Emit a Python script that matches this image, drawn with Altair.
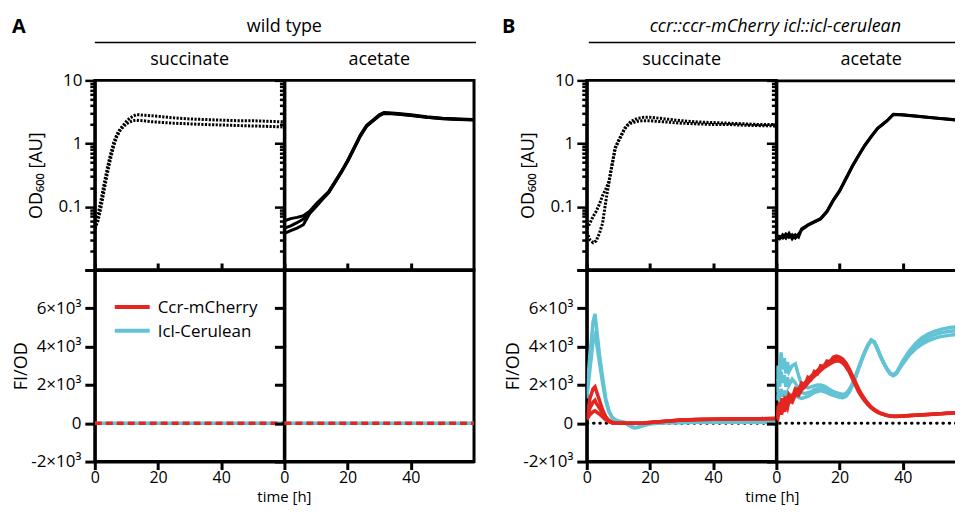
import altair as alt
import pandas as pd

FONT = "Open Sans"
RED = "#e3261f"
CYAN = "#62c3d4"

# ---------------- text ----------------
SERIES = ["Ccr-mCherry", "Icl-Cerulean"]
SERIES_COLORS = [RED, CYAN]
STRAINS = ["wild type", "ccr::ccr-mCherry icl::icl-cerulean"]
PANEL_LETTERS = ["A", "B"]
MEDIA = ["succinate", "acetate"]
X_TITLE = "time [h]"
OD_TITLE = "OD₆₀₀ [AU]"
FI_TITLE = "FI/OD"

# ---------------- ticks ----------------
X_TICKS = [0, 20, 40]
OD_TICKS = [0.01, 0.02, 0.03, 0.04, 0.05, 0.06, 0.07, 0.08, 0.09,
            0.1, 0.2, 0.3, 0.4, 0.5, 0.6, 0.7, 0.8, 0.9,
            1, 2, 3, 4, 5, 6, 7, 8, 9, 10]
FI_TICKS = [-2000, 0, 2000, 4000, 6000, 8000]

# ---------------- A: wild type, OD600 ----------------
A_SUC_T = [0, 1, 2, 3, 4, 5, 6, 7, 8, 9, 10, 11, 12, 13, 14, 16, 18, 20, 25, 30, 35, 40, 45, 50, 55, 60]
A_SUC_OD1 = [0.06, 0.075, 0.13, 0.24, 0.42, 0.68, 1.05, 1.4, 1.7, 1.95, 2.25, 2.5, 2.7, 2.85, 2.85, 2.8,
             2.75, 2.7, 2.55, 2.45, 2.4, 2.35, 2.3, 2.3, 2.25, 2.2]
A_SUC_OD2 = [0.045, 0.06, 0.1, 0.19, 0.34, 0.58, 0.92, 1.3, 1.6, 1.85, 2.05, 2.2, 2.3, 2.35, 2.32, 2.28,
             2.22, 2.18, 2.1, 2.05, 2.0, 1.97, 1.93, 1.9, 1.87, 1.83]

A_ACE_T = [0, 2, 4, 6, 8, 10, 12, 14, 16, 18, 20, 22, 24, 26, 28, 30, 31.5, 34, 36, 40, 45, 50, 55, 60]
A_ACE_OD1 = [0.06, 0.065, 0.068, 0.072, 0.085, 0.11, 0.138, 0.174, 0.25, 0.36, 0.54, 0.85, 1.36, 1.95,
             2.35, 2.85, 3.1, 3.05, 2.98, 2.85, 2.65, 2.52, 2.45, 2.4]
A_ACE_OD2 = [0.046, 0.05, 0.056, 0.064, 0.08, 0.105, 0.134, 0.17, 0.245, 0.355, 0.53, 0.84, 1.33, 1.9,
             2.3, 2.8, 3.05, 3.0, 2.93, 2.8, 2.62, 2.5, 2.43, 2.38]
A_ACE_OD3 = [0.038, 0.042, 0.046, 0.052, 0.078, 0.1, 0.13, 0.166, 0.24, 0.35, 0.52, 0.82, 1.3, 1.87,
             2.27, 2.75, 3.0, 2.96, 2.9, 2.78, 2.6, 2.48, 2.41, 2.36]

# ---------------- A: wild type, FI/OD (no fluorescence) ----------------
WT_T = [0, 60]
WT_FI = [0, 0]

# ---------------- B: reporter strain, OD600 ----------------
B_SUC_T = [0, 1, 2, 3, 4, 5, 6, 7, 8, 9, 10, 11, 12, 13, 14, 16, 18, 20, 22, 25, 30, 35, 40, 45, 50, 55, 60]
B_SUC_OD1 = [0.045, 0.055, 0.07, 0.085, 0.11, 0.15, 0.19, 0.25, 0.47, 0.87, 1.1, 1.4, 1.74, 2.0, 2.25,
             2.5, 2.6, 2.6, 2.55, 2.45, 2.3, 2.2, 2.15, 2.1, 2.05, 2.0, 2.0]
B_SUC_OD2 = [0.04, 0.03, 0.027, 0.029, 0.038, 0.055, 0.12, 0.24, 0.45, 0.84, 1.08, 1.35, 1.7, 1.95, 2.1,
             2.25, 2.3, 2.3, 2.25, 2.2, 2.1, 2.05, 2.0, 2.0, 1.95, 1.92, 1.9]

B_ACE_T = [0, 1, 2, 3, 4, 5, 6, 7, 8, 9, 10, 12, 14, 16, 18, 20, 22, 24, 26, 28, 30, 32, 34, 35, 37,
           40, 45, 50, 55, 60]
B_ACE_OD1 = [0.033, 0.031, 0.036, 0.032, 0.038, 0.031, 0.036, 0.033, 0.045, 0.048, 0.052, 0.058, 0.065,
             0.085, 0.128, 0.18, 0.28, 0.44, 0.65, 0.95, 1.3, 1.74, 2.1, 2.3, 2.9, 2.85, 2.7, 2.55, 2.42, 2.32]
B_ACE_OD2 = [0.035, 0.034, 0.032, 0.037, 0.033, 0.036, 0.032, 0.037, 0.043, 0.047, 0.051, 0.057, 0.064,
             0.083, 0.125, 0.176, 0.275, 0.43, 0.64, 0.93, 1.28, 1.72, 2.08, 2.28, 2.88, 2.83, 2.68, 2.53, 2.4, 2.3]

# ---------------- B: reporter strain, FI/OD on succinate ----------------
B_SUC_FI_T = [0, 1, 2, 2.6, 3, 4, 5, 6, 7, 8, 9, 10, 12, 14, 15, 16, 18, 20, 25, 30, 35, 40, 45, 50, 55, 60]
B_SUC_ICL1 = [1500, 3600, 5300, 5700, 5100, 3600, 2400, 1300, 650, 330, 180, 120, 40, -180, -250, -230,
              -120, -30, 20, 40, 50, 50, 50, 50, 50, 50]
B_SUC_ICL2 = [1300, 2800, 4300, 4600, 4300, 3200, 2100, 1150, 600, 300, 170, 110, 30, -150, -220, -210,
              -110, -20, 20, 40, 50, 50, 50, 50, 50, 50]
B_SUC_CCR1 = [300, 1300, 1800, 1900, 1700, 1200, 700, 350, 150, 60, 20, 5, 0, 0, 0, 0, 10, 40, 110, 170,
              200, 210, 220, 230, 240, 250]
B_SUC_CCR2 = [250, 800, 1100, 1200, 1050, 800, 500, 250, 110, 40, 10, 0, 0, 0, 0, 0, 10, 40, 110, 170,
              200, 210, 220, 230, 240, 250]
B_SUC_CCR3 = [200, 450, 600, 650, 600, 480, 330, 180, 80, 30, 10, 0, 0, 0, 0, 0, 10, 40, 110, 170,
              200, 210, 220, 230, 240, 250]

# ---------------- B: reporter strain, FI/OD on acetate ----------------
B_ACE_FI_T = [0, 0.5, 1, 1.5, 2, 2.5, 3, 3.5, 4, 5, 6, 7, 8, 9, 10, 11, 12, 13, 14, 15, 16, 17, 18, 19,
              20, 21, 22, 23, 24, 25, 26, 27, 28, 29, 30, 31, 32, 33, 34, 35, 36, 37, 38, 39, 40, 42, 44,
              46, 48, 50, 52, 55, 58, 60]
B_ACE_CCR1 = [400, 900, 600, 1000, 750, 1150, 900, 1250, 1100, 1400, 1550, 1800, 1900, 2100, 2250, 2450,
              2600, 2750, 2900, 3000, 3150, 3250, 3350, 3420, 3400, 3300, 3100, 2800, 2450, 2100, 1750,
              1450, 1200, 1000, 830, 700, 600, 520, 460, 410, 380, 360, 360, 370, 380, 400, 420, 440, 460,
              480, 500, 530, 555, 570]
B_ACE_CCR2 = [200, 600, 1100, 700, 1300, 900, 1400, 1000, 1500, 1300, 1800, 1700, 2100, 2000, 2400, 2300,
              2700, 2600, 3000, 2950, 3250, 3200, 3450, 3500, 3450, 3350, 3150, 2850, 2500, 2150, 1800,
              1500, 1250, 1030, 850, 720, 610, 530, 470, 420, 385, 365, 362, 372, 382, 402, 422, 442, 462,
              482, 502, 532, 557, 572]
B_ACE_CCR3 = [500, 300, 800, 450, 900, 600, 1000, 800, 1200, 1100, 1500, 1450, 1750, 1900, 2100, 2300,
              2450, 2600, 2750, 2900, 3000, 3100, 3200, 3250, 3250, 3150, 2950, 2700, 2350, 2000, 1650,
              1380, 1150, 960, 800, 680, 580, 505, 450, 405, 375, 355, 355, 365, 375, 395, 415, 435, 455,
              475, 495, 525, 550, 565]
B_ACE_ICL1 = [2200, 3000, 2500, 3700, 2800, 3400, 2600, 3200, 2700, 3000, 3100, 2500, 2000, 1900, 1850,
              1900, 1950, 2000, 2000, 1950, 1850, 1750, 1650, 1600, 1550, 1500, 1550, 1750, 2050, 2450,
              2900, 3350, 3750, 4100, 4350, 4250, 3900, 3500, 3150, 2850, 2620, 2520, 2650, 2950, 3250,
              3750, 4150, 4450, 4650, 4800, 4900, 5000, 5050, 5080]
B_ACE_ICL2 = [1600, 2300, 1900, 2700, 2100, 2500, 1900, 2400, 2000, 2300, 2100, 1800, 1600, 1550, 1600,
              1650, 1750, 1800, 1850, 1800, 1700, 1600, 1520, 1450, 1400, 1380, 1450, 1650, 1980, 2400,
              2850, 3300, 3720, 4080, 4330, 4230, 3880, 3480, 3130, 2830, 2600, 2500, 2620, 2900, 3180,
              3650, 4000, 4280, 4480, 4620, 4720, 4800, 4860, 4880]
B_ACE_ICL3 = [1200, 1500, 1300, 1800, 1400, 1700, 1350, 1600, 1400, 1500, 1450, 1350, 1300, 1350, 1400,
              1500, 1600, 1650, 1700, 1650, 1600, 1520, 1450, 1400, 1350, 1330, 1400, 1600, 1950, 2380,
              2830, 3280, 3700, 4060, 4310, 4210, 3860, 3460, 3110, 2810, 2580, 2480, 2580, 2850, 3100,
              3550, 3880, 4120, 4300, 4430, 4520, 4600, 4650, 4670]

# ---------------- layout ----------------
W = 190
W_CUT = 180          # the last panel runs past the image edge
W_GAP = 113          # gap between panel A and panel B
X_MAX = 60
X_MAX_CUT = X_MAX * W_CUT / W
H_OD = 190
H_FI = 192


def frame(t, reps):
    rows = []
    for i, r in enumerate(reps):
        for tt, v in zip(t, r):
            rows.append({"t": tt, "v": v, "rep": f"r{i}"})
    return pd.DataFrame(rows)


def xs(cut):
    return alt.Scale(domain=[0, X_MAX_CUT if cut else X_MAX], nice=False, zero=False)


OD_SCALE = alt.Scale(type="log", domain=[0.01, 10], nice=False)
FI_SCALE = alt.Scale(domain=[-2000, 8000], nice=False, zero=False)
MAJOR = "datum.value == 0.01 || datum.value == 0.1 || datum.value == 1 || datum.value == 10"


def od_axis(first):
    return alt.Axis(values=OD_TICKS, labels=first, title=OD_TITLE if first else None,
                    labelExpr="datum.value == 10 ? '10' : datum.value == 1 ? '1' : datum.value == 0.1 ? '0.1' : ''",
                    labelOverlap=False, labelPadding=3, tickWidth=2.5,
                    tickSize={"condition": {"test": MAJOR, "value": 10}, "value": 5},
                    titleX=-53, titleBaseline="alphabetic")


def fi_axis(first):
    return alt.Axis(values=FI_TICKS, labels=first, title=FI_TITLE if first else None,
                    labelExpr="datum.value == 0 ? '0' : datum.value == 8000 ? '' : (datum.value / 1000) + '×10³'",
                    labelOverlap=False, labelPadding=4, tickSize=10,
                    titleX=-68, titleBaseline="alphabetic")


X_BOTTOM = alt.Axis(orient="bottom", values=X_TICKS, title=None, tickSize=8, labelPadding=0,
                    labelFontSize=16, labelFlush=False, labelOverlap=False)


def x_top(ticks):
    return alt.Axis(orient="top", values=X_TICKS, labels=False, title=None, ticks=ticks, tickSize=7)


def label(text, x, y, size=18, weight="normal", style="normal", align="center"):
    return alt.Chart(pd.DataFrame({"s": [text]})).mark_text(
        align=align, baseline="alphabetic", fontSize=size, fontWeight=weight, fontStyle=style,
        font=FONT, color="black").encode(text="s:N", x=alt.value(x), y=alt.value(y))


def hline(x1, x2, y, color="black", width=1.5):
    return alt.Chart(pd.DataFrame({"s": [0]})).mark_rule(color=color, strokeWidth=width).encode(
        x=alt.value(x1), x2=alt.value(x2), y=alt.value(y))


def legend_layers():
    out = []
    for k, (name, color) in enumerate(zip(SERIES, SERIES_COLORS)):
        yy = 37 + 24 * k
        out.append(hline(20, 55, yy, color=color, width=4))
        out.append(label(name, 63, yy + 6, size=17, align="left"))
    return out


def spacer(h):
    return alt.Chart(pd.DataFrame({"s": [""]})).mark_text(opacity=0).encode(
        text="s:N", x=alt.value(0), y=alt.value(0)).properties(
        width=W_GAP, height=h, view=alt.ViewBackground(stroke=None))


def od_panel(t, reps, dotted, first, cut, extra):
    df = frame(t, reps)
    y = alt.Y("v:Q", scale=OD_SCALE, axis=od_axis(first))
    kw = {"strokeDash": [2.2, 1.4]} if dotted else {}
    layers = [alt.Chart(df).mark_line(color="black", strokeWidth=3, clip=True, **kw).encode(
        x=alt.X("t:Q", scale=xs(cut), axis=None), y=y, detail="rep:N")]
    if cut:
        layers.append(alt.Chart(df).mark_line(opacity=0, clip=True).encode(
            x=alt.X("t:Q", scale=xs(cut), axis=x_top(False)), y=y, detail="rep:N"))
    ch = alt.layer(*layers, *extra).resolve_axis(x="independent").properties(
        width=W_CUT if cut else W, height=H_OD)
    if cut:
        ch = ch.properties(view=alt.ViewBackground(stroke=None))
    return ch


def fi_panel(line_layers, first, dotted_zero, cut, extra):
    y = alt.Y("v:Q", scale=FI_SCALE, axis=fi_axis(first))
    layers = []
    if dotted_zero:
        layers.append(alt.Chart(pd.DataFrame({"v": [0]})).mark_rule(
            color="black", strokeWidth=3, strokeDash=[0.5, 5.8], strokeCap="round").encode(y=y))
    for k, (df, color, kw) in enumerate(line_layers):
        layers.append(alt.Chart(df).mark_line(strokeWidth=3.5, color=color, clip=True, **kw).encode(
            x=alt.X("t:Q", scale=xs(cut), axis=X_BOTTOM if k == 0 else None), y=y, detail="rep:N"))
    df0 = line_layers[0][0]
    layers.append(alt.Chart(df0).mark_line(opacity=0, clip=True).encode(
        x=alt.X("t:Q", scale=xs(cut), axis=x_top(True)), y=y, detail="rep:N"))
    ch = alt.layer(*layers, *extra).resolve_axis(x="independent").properties(
        width=W_CUT if cut else W, height=H_FI)
    if cut:
        ch = ch.properties(view=alt.ViewBackground(stroke=None))
    return ch


# ---------- panel A ----------
odAs = od_panel(A_SUC_T, [A_SUC_OD1, A_SUC_OD2], True, True, False, [
    label(PANEL_LETTERS[0], -83, -47, size=20, weight="bold", align="left"),
    label(STRAINS[0], 190, -48),
    hline(0, 382, -38),
    label(MEDIA[0], 95, -15),
])
odAa = od_panel(A_ACE_T, [A_ACE_OD1, A_ACE_OD2, A_ACE_OD3], False, False, False, [
    label(MEDIA[1], 95, -15),
])
wt = frame(WT_T, [WT_FI])
fiAs = fi_panel([(wt, CYAN, {}), (wt, RED, {"strokeDash": [7, 4]})], True, False, False,
                legend_layers() + [label(X_TITLE, 190, 233, size=15)])
fiAa = fi_panel([(wt, CYAN, {}), (wt, RED, {"strokeDash": [7, 4]})], False, False, False, [])

# ---------- panel B ----------
odBs = od_panel(B_SUC_T, [B_SUC_OD1, B_SUC_OD2], True, True, False, [
    label(PANEL_LETTERS[1], -85, -47, size=20, weight="bold", align="left"),
    label(STRAINS[1], 189, -48, style="italic"),
    hline(2, W + W_CUT, -38),
    label(MEDIA[0], 95, -15),
])
odBa = od_panel(B_ACE_T, [B_ACE_OD1, B_ACE_OD2], False, False, True, [
    label(MEDIA[1], 95, -15),
])
bs_icl = frame(B_SUC_FI_T, [B_SUC_ICL1, B_SUC_ICL2])
bs_ccr = frame(B_SUC_FI_T, [B_SUC_CCR1, B_SUC_CCR2, B_SUC_CCR3])
ba_icl = frame(B_ACE_FI_T, [B_ACE_ICL1, B_ACE_ICL2, B_ACE_ICL3])
ba_ccr = frame(B_ACE_FI_T, [B_ACE_CCR1, B_ACE_CCR2, B_ACE_CCR3])
fiBs = fi_panel([(bs_icl, CYAN, {}), (bs_ccr, RED, {})], True, True, False,
                [label(X_TITLE, 186, 233, size=15)])
fiBa = fi_panel([(ba_icl, CYAN, {}), (ba_ccr, RED, {})], False, True, True, [])

# The figure is a crop of a larger one, so the canvas gets a fixed size.
chart = alt.concat(
    odAs, odAa, spacer(H_OD), odBs, odBa,
    fiAs, fiAa, spacer(H_FI), fiBs, fiBa,
    columns=5, spacing=0, bounds="flush"
).properties(
    autosize=alt.AutoSizeParams(type="none"),
    padding={"left": 87, "top": 72, "right": 862, "bottom": 426}
).configure(font=FONT).configure_view(
    stroke="black", strokeWidth=3
).configure_axis(
    labelFont=FONT, labelFontSize=17, labelColor="black", titleFont=FONT, titleFontSize=18,
    titleFontWeight="normal", titleColor="black", domainColor="black", domainWidth=3,
    tickColor="black", tickWidth=3, grid=False
)

chart.save("out.html", embed_options={"renderer": "svg", "actions": False})
